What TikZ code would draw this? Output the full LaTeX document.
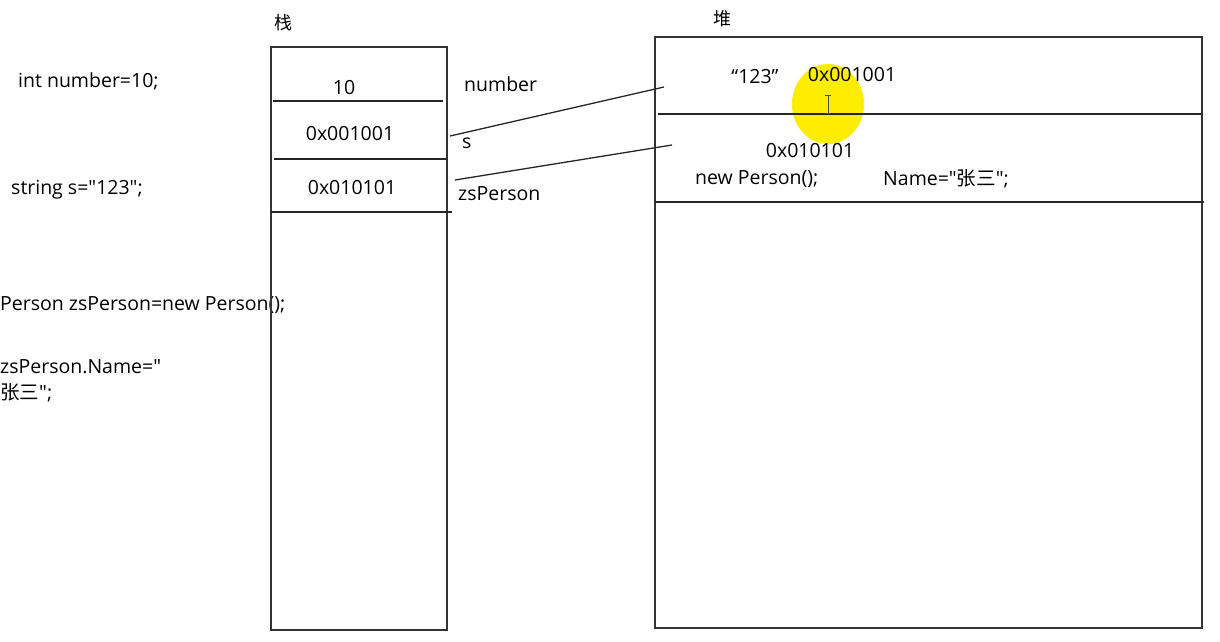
\documentclass[tikz,border=0pt]{standalone}
\usepackage{fontspec}
\setmainfont{Open Sans}[Ligatures=TeXOff]
\newfontfamily\cjk{Noto Sans CJK SC}[Ligatures=TeXOff]
\begin{document}
\begin{tikzpicture}[x=1pt,y=-1pt,
  txt/.style={inner sep=0pt,font=\fontsize{19.5}{22}\selectfont},
  code/.style={txt,anchor=west},
  title/.style={inner sep=0pt,font=\fontsize{18}{20}\selectfont\cjk},
  frame/.style={draw=black!80,line width=1.5pt},
  rule/.style={draw=black!85,line width=1.3pt},
  link/.style={draw=black!85,line width=1.3pt}]
\useasboundingbox (0,0) rectangle (1220,641);
\clip (0,0) rectangle (1220,641);
\fill[white] (0,0) rectangle (1220,641);

% source lines on the left
\node[code] (c1) at (18,81) {int number=10;};
\node[code] (c2) at (11,190) {string s="123";};
\node[code] (c3) at (0,305) {Person zsPerson=new Person();};
\node[code] (c4) at (0,367) {zsPerson.Name="};
\node[code] (c5) at (0,393) {{\cjk 张三}";};

% stack
\node[title] (stackT) at (283,23) {栈};
\draw[frame] (271,47) rectangle (447,630);
\draw[rule] (273,101) -- (443,101);
\draw[rule] (274,159) -- (447,159);
\draw[rule] (271,212) -- (452,212);
\node[txt] (v1) at (344,88) {10};
\node[txt] (v2) at (350,134) {0x001001};
\node[txt] (v3) at (352,188) {0x010101};
\node[code] (n1) at (464,84) {number};
\node[code] (n2) at (462,143) {s};
\node[code] (n3) at (458,194) {zsPerson};

% heap
\node[title] (heapT) at (722,19) {堆};
\draw[frame] (655,37) rectangle (1202,628);
\fill[yellow!95!orange] (828,104) ellipse (36 and 40);
\draw[rule] (658,114) -- (1202,114);
\draw[rule] (655,202) -- (1204,202);
\node[txt] (h1) at (755,77) {“123”};
\node[txt] (h2) at (852,75) {0x001001};
\node[txt] (h3) at (810,151) {0x010101};
\node[code] (h4) at (695,179) {new Person();};
\node[code] (h5) at (883,179) {Name="{\cjk 张三}";};

% text cursor
\draw[black!70,line width=0.9pt] (828,95) -- (828,113) (825,95) -- (831,95) (825,113) -- (831,113);

% references from stack to heap
\coordinate (s1) at (450,136);
\coordinate (t1) at (664,87);
\coordinate (s2) at (455,180);
\coordinate (t2) at (672,145);
\draw[link] (s1) -- (t1);
\draw[link] (s2) -- (t2);
\end{tikzpicture}
\end{document}
